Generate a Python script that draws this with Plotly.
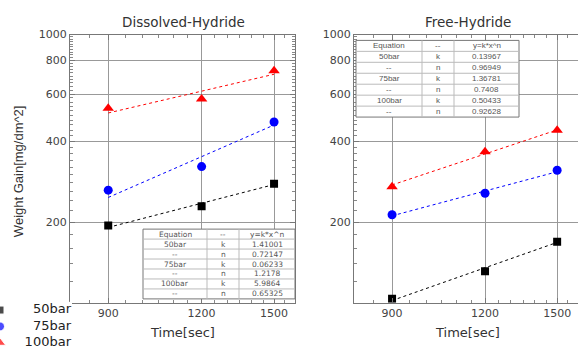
import plotly.graph_objects as go
import numpy as np

W, H = 578, 351

# ---------------- data ----------------
times = [900, 1200, 1500]
fit_times = [900, 1500]
series = ["50bar", "75bar", "100bar"]
colors = ["#000000", "#0000ff", "#ff0000"]
symbols = ["square", "circle", "triangle-up"]
sizes = [8, 9, 10]

dis_50 = [194, 229, 278]
dis_75 = [263, 322, 472]
dis_100 = [531, 575, 733]
dis_fit_50 = [191, 276]
dis_fit_75 = [247, 460]
dis_fit_100 = [510, 711]

free_50 = [103.5, 131, 169]
free_75 = [213, 256, 312]
free_100 = [271, 366, 440]
free_fit_50 = [102, 168]
free_fit_75 = [211, 308]
free_fit_100 = [275, 441]

y_ticks = [200, 400, 600, 800, 1000]
x_ticks = [900, 1200, 1500]
y_minor = list(range(100, 1001, 20))
x_minor = list(range(800, 1601, 50))

tbl_head = ["Equation", "--", "y=k*x^n"]
tbl_col1 = ["50bar", "--", "75bar", "--", "100bar", "--"]
tbl_col2 = ["k", "n", "k", "n", "k", "n"]
dis_params = ["1.41001", "0.72147", "0.06233", "1.2178", "5.9864", "0.65325"]
free_params = ["0.13967", "0.96949", "1.36781", "0.7408", "0.50433", "0.92628"]

# ---------------- helpers ----------------
def px_x(p):
    return p / W

def px_y(p):
    return 1 - p / H

fig = go.Figure()

def add_panel(xa, ya, data, fits):
    for vals, fit, c in zip(data, fits, colors):
        fig.add_trace(go.Scatter(x=fit_times, y=fit, mode="lines",
                                 line=dict(color=c, width=1, dash="dot"),
                                 xaxis=xa, yaxis=ya, showlegend=False, hoverinfo="skip"))
    for vals, c, s, sz, name in zip(data, colors, symbols, sizes, series):
        fig.add_trace(go.Scatter(x=times, y=vals, mode="markers", name=name,
                                 marker=dict(color=c, symbol=s, size=sz, line=dict(width=0)),
                                 xaxis=xa, yaxis=ya, showlegend=False))

add_panel("x", "y", [dis_50, dis_75, dis_100], [dis_fit_50, dis_fit_75, dis_fit_100])
add_panel("x2", "y2", [free_50, free_75, free_100], [free_fit_50, free_fit_75, free_fit_100])

# custom legend (bottom-left)
fig.add_trace(go.Scatter(x=[0] * 3, y=series, mode="markers",
                         marker=dict(color=colors, symbol=symbols, size=[8, 9, 10]),
                         xaxis="x3", yaxis="y3", showlegend=False, hoverinfo="skip",
                         cliponaxis=False))
fig.add_trace(go.Scatter(x=[71] * 3, y=series, mode="text", text=series,
                         textposition="middle left",
                         textfont=dict(family="DejaVu Sans", size=13, color="#222222"),
                         xaxis="x3", yaxis="y3", showlegend=False, hoverinfo="skip",
                         cliponaxis=False))

# tables drawn as shapes + text
def add_table(params, x0, x1, cols, y0, y1, family, fsize):
    rows = [tbl_head] + [list(r) for r in zip(tbl_col1, tbl_col2, params)]
    n = len(rows)
    rh = (y1 - y0) / n
    edges = [x0] + cols + [x1]
    fig.add_shape(type="rect", xref="paper", yref="paper",
                  x0=px_x(x0), x1=px_x(x1), y0=px_y(y1), y1=px_y(y0),
                  fillcolor="white", line=dict(color="#777777", width=1), layer="above")
    for i in range(1, n):
        yy = y0 + i * rh
        fig.add_shape(type="line", xref="paper", yref="paper",
                      x0=px_x(x0), x1=px_x(x1), y0=px_y(yy), y1=px_y(yy),
                      line=dict(color="#bbbbbb", width=1), layer="above")
    for cx in cols:
        fig.add_shape(type="line", xref="paper", yref="paper",
                      x0=px_x(cx), x1=px_x(cx), y0=px_y(y0), y1=px_y(y1),
                      line=dict(color="#bbbbbb", width=1), layer="above")
    for i, row in enumerate(rows):
        yc = y0 + (i + 0.5) * rh
        for j, txt in enumerate(row):
            xc = (edges[j] + edges[j + 1]) / 2
            fig.add_annotation(text=txt, x=px_x(xc), y=px_y(yc), xref="paper", yref="paper",
                               showarrow=False, xanchor="center", yanchor="middle",
                               font=dict(family=family, size=fsize, color="#555555"))

add_table(dis_params, 143, 295, [207, 239], 227, 298, "DejaVu Sans", 7.5)
add_table(free_params, 356, 519, [422, 454], 35, 113, "Liberation Sans", 8)

tickfont = dict(family="DejaVu Sans", size=11, color="#444444")

def xaxis_cfg(dom, anchor):
    return dict(domain=dom, anchor=anchor, type="log",
                range=[np.log10(800), np.log10(1600)],
                tickmode="array", tickvals=x_ticks, ticktext=[str(v) for v in x_ticks],
                ticks="inside", ticklen=5, tickcolor="#777777",
                showgrid=True, gridcolor="#999999", gridwidth=1,
                showline=True, linecolor="#777777", linewidth=1, mirror="ticks",
                tickfont=tickfont, zeroline=False,
                minor=dict(tickmode="array", tickvals=x_minor, ticks="inside", ticklen=3,
                           tickcolor="#888888", showgrid=False))

def yaxis_cfg(dom, anchor, mirror):
    return dict(domain=dom, anchor=anchor, type="log", range=[2, 3],
                tickmode="array", tickvals=y_ticks, ticktext=[str(v) for v in y_ticks],
                ticks="inside", ticklen=5, tickcolor="#777777",
                showgrid=True, gridcolor="#999999", gridwidth=1,
                showline=True, linecolor="#777777", linewidth=1, mirror=mirror,
                tickfont=tickfont, zeroline=False,
                minor=dict(tickmode="array", tickvals=y_minor, ticks="inside", ticklen=3,
                           tickcolor="#888888", showgrid=False))

ydom = [px_y(302), px_y(29)]
fig.update_layout(
    width=W, height=H,
    margin=dict(l=0, r=0, t=0, b=0),
    paper_bgcolor="white", plot_bgcolor="white",
    xaxis=xaxis_cfg([px_x(70), px_x(295)], "y"),
    yaxis=yaxis_cfg(ydom, "x", "ticks"),
    xaxis2=xaxis_cfg([px_x(354), 1.0], "y2"),
    yaxis2=yaxis_cfg(ydom, "x2", False),
    xaxis3=dict(domain=[0, px_x(72)], anchor="y3", range=[0, 72], visible=False),
    yaxis3=dict(domain=[0, px_y(301)], anchor="x3", type="category",
                categoryorder="array", categoryarray=series, range=[2.5, -0.5], visible=False),
    showlegend=False,
)

ann_font_title = dict(family="DejaVu Sans", size=13.5, color="#333333")
ann_font_ax = dict(family="DejaVu Sans", size=13, color="#333333")
fig.add_annotation(text="Dissolved-Hydride", x=px_x(183), y=px_y(16), xref="paper", yref="paper",
                   showarrow=False, font=ann_font_title, xanchor="center", yanchor="middle")
fig.add_annotation(text="Free-Hydride", x=px_x(468), y=px_y(16), xref="paper", yref="paper",
                   showarrow=False, font=ann_font_title, xanchor="center", yanchor="middle")
fig.add_annotation(text="Time[sec]", x=px_x(182), y=px_y(332), xref="paper", yref="paper",
                   showarrow=False, font=ann_font_ax, xanchor="center", yanchor="middle")
fig.add_annotation(text="Time[sec]", x=px_x(467), y=px_y(332), xref="paper", yref="paper",
                   showarrow=False, font=ann_font_ax, xanchor="center", yanchor="middle")
fig.add_annotation(text="Weight Gain[mg/dm^2]", x=px_x(18), y=px_y(168), xref="paper", yref="paper",
                   showarrow=False, textangle=-90,
                   font=dict(family="Liberation Sans", size=13, color="#333333"),
                   xanchor="center", yanchor="middle")

fig.write_html("out.html",
               config={"displayModeBar": False},
               post_script="document.body.style.margin='0';document.body.style.padding='0';"
                           "document.body.style.overflow='hidden';"
                           "var d=document.getElementById('{plot_id}');"
                           "d.style.position='fixed';d.style.top='0px';d.style.left='0px';")
